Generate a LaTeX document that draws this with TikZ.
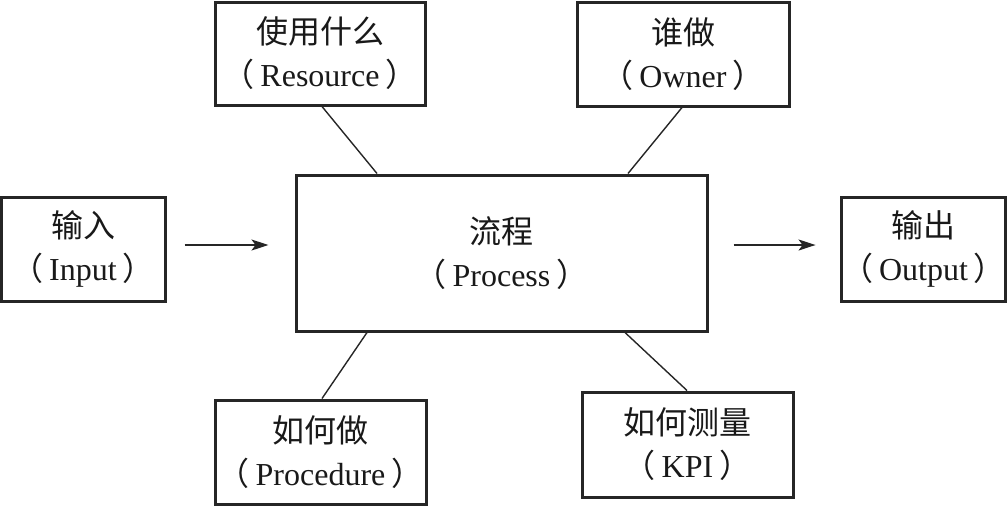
\documentclass[tikz,border=0pt]{standalone}
\usepackage{fontspec}
\setmainfont{Liberation Serif}
\newfontfamily\cjk{Noto Sans CJK SC}
\newcommand{\lp}{{\cjk （}\hspace{6pt}}
\newcommand{\rp}{\hspace{6pt}{\cjk ）}}
\usetikzlibrary{arrows.meta,calc}
\begin{document}
\begin{tikzpicture}[x=1pt,y=-1pt,
  box/.style={draw=black!85,line width=3pt,inner sep=0pt,align=center,
    font=\fontsize{32}{43}\selectfont,text=black!90},
  link/.style={draw=black!85,line width=1.4pt},
  arr/.style={draw=black!85,line width=1.6pt,-{Stealth[length=17pt,width=11pt,inset=4pt]}}]
\useasboundingbox (0,0) rectangle (1008,507);
\node[box,minimum width=210pt,minimum height=103pt] (res) at (320,53.5)
  {{\cjk 使用什么}\\\lp Resource\rp};
\node[box,minimum width=212pt,minimum height=104pt] (own) at (683,54)
  {{\cjk 谁做}\\\lp Owner\rp};
\node[box,minimum width=164pt,minimum height=104pt] (inp) at (83,249)
  {{\cjk 输入}\\\lp Input\rp};
\node[box,minimum width=411pt,minimum height=156pt] (proc) at (501.5,253)
  {{\cjk 流程}\\\lp Process\rp};
\node[box,minimum width=163pt,minimum height=104pt] (out) at (923.5,249)
  {{\cjk 输出}\\\lp Output\rp};
\node[box,minimum width=211pt,minimum height=104pt] (pro) at (320.5,452)
  {{\cjk 如何做}\\\lp Procedure\rp};
\node[box,minimum width=211pt,minimum height=105pt] (kpi) at (687.5,444.5)
  {{\cjk 如何测量}\\\lp KPI\rp};
\draw[link] (res.south -| 322,0) -- (proc.north -| 377,0);
\draw[link] (own.south -| 682,0) -- (proc.north -| 628,0);
\draw[link] (pro.north -| 322,0) -- (proc.south -| 367,0);
\draw[link] (kpi.north -| 687,0) -- (proc.south -| 625,0);
\draw[arr] ($(inp.east)+(18,-4)$) -- ($(proc.west)+(-26,-8)$);
\draw[arr] ($(proc.east)+(25,-8)$) -- ($(out.west)+(-24,-4)$);
\end{tikzpicture}
\end{document}
